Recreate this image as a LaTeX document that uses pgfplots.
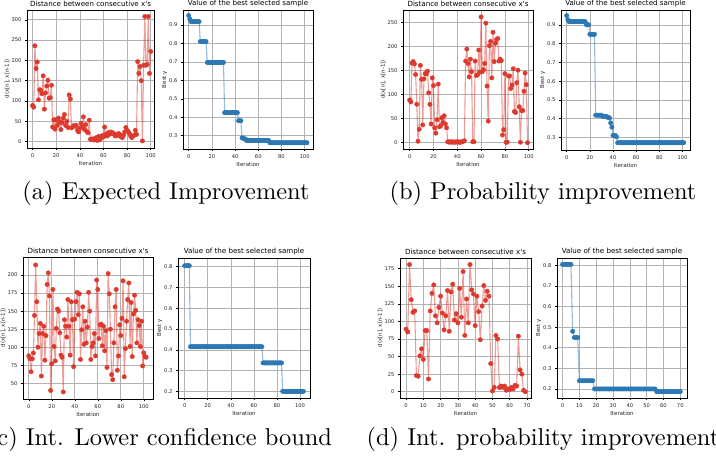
\documentclass[border=0pt]{standalone}
\usepackage{fontspec}
\usepackage{graphicx}
\usepackage{pgfplots}
\pgfplotsset{compat=1.18}
\newfontfamily\djv{DejaVu Sans}
\definecolor{distred}{HTML}{DC3A2E}
\definecolor{bestblue}{HTML}{2B78B5}

\pgfplotsset{
  bo/.style={
    scale only axis, anchor=south west,
    font=\djv\fontsize{5.4}{6.4}\selectfont,
    title style={font=\djv\fontsize{7.1}{8}\selectfont, inner sep=1pt, yshift=-4.3pt},
    tick label style={font=\djv\fontsize{5.2}{6}\selectfont, text=black!85},
    label style={font=\djv\fontsize{5.5}{6.4}\selectfont, text=black!85, inner sep=1pt},
    ylabel shift=-2.5pt, xlabel shift=-1pt,
    /pgf/number format/assume math mode=true,
    grid=major, grid style={gray!60, line width=0.6pt},
    axis line style={black, line width=0.7pt},
    tick pos=left, tick align=outside, major tick length=2pt,
    tick style={black, line width=0.5pt},
    xlabel={Iteration}, scaled ticks=false,
  },
  dist/.style={bo, title={Distance between consecutive x's}, ylabel={d(x[n], x[n-1])}},
  best/.style={bo, title={Value of the best selected sample}, ylabel={Best y},
    yticklabel style={/pgf/number format/fixed}, ytick={0.2,0.3,...,0.9}},
  distline/.style={color=distred, draw opacity=0.5, line width=1.1pt, mark=none},
  distmark/.style={only marks, mark=*, mark size=2.2pt, color=distred},
  bestline/.style={color=bestblue, draw opacity=0.5, line width=1.1pt, mark=none},
  bestmark/.style={only marks, mark=*, mark size=2.2pt, color=bestblue},
}

% (a) expected improvement
\pgfplotstableread[row sep=\\]{x y\\
0 89\\1 85\\2 236\\3 180\\4 196\\5 103\\6 128\\7 126\\8 118\\9 162\\
10 80\\11 120\\12 137\\13 151\\14 107\\15 108\\16 139\\17 36\\18 54\\19 31\\
20 54\\21 40\\22 58\\23 48\\24 30\\25 47\\26 58\\27 67\\28 40\\29 50\\
30 35\\31 115\\32 105\\33 34\\34 37\\35 40\\36 38\\37 40\\38 28\\39 24\\
40 33\\41 45\\42 37\\43 61\\44 30\\45 42\\46 25\\47 22\\48 53\\49 6\\
50 6\\51 7\\52 4\\53 8\\54 10\\55 3\\56 13\\57 5\\58 9\\59 15\\
60 12\\61 36\\62 18\\63 14\\64 22\\65 18\\66 24\\67 20\\68 22\\69 18\\
70 14\\71 18\\72 15\\73 20\\74 17\\75 12\\76 10\\77 16\\78 24\\79 35\\
80 28\\81 25\\82 20\\83 14\\84 10\\85 14\\86 16\\87 28\\88 18\\89 197\\
90 168\\91 185\\92 150\\93 2\\94 188\\95 308\\96 188\\97 190\\98 308\\99 168\\
100 222\\
}\distA
\pgfplotstableread[row sep=\\]{x y\\
0 0.951\\1 0.932\\2 0.918\\3 0.918\\4 0.918\\5 0.918\\6 0.918\\7 0.918\\8 0.918\\9 0.918\\
10 0.81\\11 0.81\\12 0.81\\13 0.81\\14 0.81\\15 0.81\\
16 0.697\\17 0.697\\18 0.697\\19 0.697\\20 0.697\\21 0.697\\22 0.697\\23 0.697\\
24 0.697\\25 0.697\\26 0.697\\27 0.697\\28 0.697\\29 0.697\\30 0.697\\
31 0.425\\32 0.425\\33 0.425\\34 0.425\\35 0.425\\36 0.425\\37 0.425\\38 0.425\\
39 0.425\\40 0.425\\41 0.425\\42 0.425\\
43 0.381\\44 0.381\\45 0.381\\46 0.288\\47 0.288\\48 0.282\\49 0.282\\
50 0.274\\51 0.274\\52 0.274\\53 0.274\\54 0.274\\55 0.274\\56 0.274\\57 0.274\\
58 0.274\\59 0.274\\60 0.274\\61 0.274\\62 0.274\\63 0.274\\64 0.274\\65 0.274\\
66 0.274\\67 0.274\\68 0.274\\69 0.274\\
70 0.262\\71 0.262\\72 0.262\\73 0.262\\74 0.262\\75 0.262\\76 0.262\\77 0.262\\
78 0.262\\79 0.262\\80 0.262\\81 0.262\\82 0.262\\83 0.262\\84 0.262\\85 0.262\\
86 0.262\\87 0.262\\88 0.262\\89 0.262\\90 0.262\\91 0.262\\92 0.262\\93 0.262\\
94 0.262\\95 0.262\\96 0.262\\97 0.262\\98 0.262\\99 0.262\\100 0.262\\101 0.262\\
102 0.262\\
}\bestA

% (b) probability improvement
\pgfplotstableread[row sep=\\]{x y\\
0 89\\1 85\\2 166\\3 169\\4 164\\5 142\\6 80\\7 3\\8 28\\9 161\\
10 132\\11 37\\12 133\\13 144\\14 143\\15 149\\16 104\\17 80\\18 39\\19 135\\
20 119\\21 31\\22 20\\23 48\\24 122\\25 33\\26 35\\27 52\\28 42\\29 56\\
30 39\\31 31\\32 2\\33 1\\34 2\\35 1\\36 2\\37 1\\38 1\\39 2\\
40 1\\41 2\\42 1\\43 1\\44 2\\45 3\\46 4\\47 170\\48 195\\49 165\\
50 137\\51 174\\52 148\\53 2\\54 2\\55 170\\56 140\\57 141\\58 193\\59 147\\
60 262\\61 148\\62 152\\63 165\\64 249\\65 118\\66 45\\67 202\\68 211\\69 135\\
70 230\\71 169\\72 207\\73 215\\74 217\\75 170\\76 174\\77 171\\78 16\\79 27\\
80 144\\81 1\\82 1\\83 139\\84 139\\85 113\\86 120\\87 154\\88 65\\89 63\\
90 125\\91 151\\92 75\\93 1\\94 67\\95 67\\96 107\\97 145\\98 121\\99 0\\
}\distB
\pgfplotstableread[row sep=\\]{x y\\
0 0.95\\1 0.928\\2 0.918\\3 0.918\\4 0.918\\5 0.918\\6 0.918\\7 0.918\\8 0.918\\
9 0.918\\10 0.918\\11 0.918\\12 0.918\\13 0.918\\14 0.918\\15 0.918\\16 0.918\\
17 0.901\\18 0.901\\19 0.901\\20 0.85\\21 0.85\\22 0.85\\23 0.85\\24 0.85\\
25 0.418\\26 0.418\\27 0.418\\28 0.418\\29 0.418\\30 0.418\\
31 0.412\\32 0.412\\33 0.412\\34 0.412\\35 0.407\\36 0.407\\37 0.403\\38 0.377\\
39 0.354\\40 0.31\\41 0.31\\42 0.31\\43 0.302\\
44 0.271\\45 0.271\\46 0.271\\47 0.271\\48 0.271\\49 0.271\\50 0.271\\51 0.271\\
52 0.271\\53 0.271\\54 0.271\\55 0.271\\56 0.271\\57 0.271\\58 0.271\\59 0.271\\
60 0.271\\61 0.271\\62 0.271\\63 0.271\\64 0.271\\65 0.271\\66 0.271\\67 0.271\\
68 0.271\\69 0.271\\70 0.271\\71 0.271\\72 0.271\\73 0.271\\74 0.271\\75 0.271\\
76 0.271\\77 0.271\\78 0.271\\79 0.271\\80 0.271\\81 0.271\\82 0.271\\83 0.271\\
84 0.271\\85 0.271\\86 0.271\\87 0.271\\88 0.271\\89 0.271\\90 0.271\\91 0.271\\
92 0.271\\93 0.271\\94 0.271\\95 0.271\\96 0.271\\97 0.271\\98 0.271\\99 0.271\\
100 0.271\\101 0.271\\
}\bestB

% (c) int. lower confidence bound
\pgfplotstableread[row sep=\\]{x y\\
0 88\\1 84\\2 66\\3 84\\4 92\\5 144\\6 214\\7 163\\8 100\\9 119\\
10 133\\11 60\\12 119\\13 129\\14 82\\15 116\\16 187\\17 203\\18 171\\19 40\\
20 77\\21 180\\22 101\\23 81\\24 126\\25 153\\26 150\\27 120\\28 89\\29 86\\
30 38\\31 138\\32 129\\33 114\\34 166\\35 129\\36 89\\37 163\\38 138\\39 73\\
40 139\\41 163\\42 176\\43 145\\44 174\\45 83\\46 124\\47 156\\48 104\\49 136\\
50 106\\51 128\\52 176\\53 150\\54 83\\55 101\\56 106\\57 119\\58 88\\59 193\\
60 180\\61 112\\62 131\\63 132\\64 102\\65 129\\66 95\\67 123\\68 72\\69 202\\
70 174\\71 125\\72 62\\73 55\\74 106\\75 156\\76 180\\77 68\\78 88\\79 131\\
80 116\\81 140\\82 192\\83 59\\84 98\\85 136\\86 166\\87 189\\88 101\\89 162\\
90 87\\91 146\\92 172\\93 151\\94 106\\95 138\\96 130\\97 101\\98 136\\99 74\\
100 92\\101 87\\102 86\\
}\distC
\pgfplotstableread[row sep=\\]{x y\\
0 0.805\\1 0.805\\2 0.805\\3 0.805\\4 0.805\\
5 0.415\\6 0.415\\7 0.415\\8 0.415\\9 0.415\\10 0.415\\11 0.415\\12 0.415\\13 0.415\\
14 0.415\\15 0.415\\16 0.415\\17 0.415\\18 0.415\\19 0.415\\20 0.415\\21 0.415\\
22 0.415\\23 0.415\\24 0.415\\25 0.415\\26 0.415\\27 0.415\\28 0.415\\29 0.415\\
30 0.415\\31 0.415\\32 0.415\\33 0.415\\34 0.415\\35 0.415\\36 0.415\\37 0.415\\
38 0.415\\39 0.415\\40 0.415\\41 0.415\\42 0.415\\43 0.415\\44 0.415\\45 0.415\\
46 0.415\\47 0.415\\48 0.415\\49 0.415\\50 0.415\\51 0.415\\52 0.415\\53 0.415\\
54 0.415\\55 0.415\\56 0.415\\57 0.415\\58 0.415\\59 0.415\\60 0.415\\61 0.415\\
62 0.415\\63 0.415\\64 0.415\\65 0.415\\66 0.415\\67 0.415\\
68 0.337\\69 0.337\\70 0.337\\71 0.337\\72 0.337\\73 0.337\\74 0.337\\75 0.337\\
76 0.337\\77 0.337\\78 0.337\\79 0.337\\80 0.337\\81 0.337\\82 0.337\\83 0.337\\84 0.337\\
85 0.2\\86 0.2\\87 0.2\\88 0.2\\89 0.2\\90 0.2\\91 0.2\\92 0.2\\93 0.2\\94 0.2\\
95 0.2\\96 0.2\\97 0.2\\98 0.2\\99 0.2\\100 0.2\\101 0.2\\102 0.2\\103 0.2\\
}\bestC

% (d) int. probability improvement
\pgfplotstableread[row sep=\\]{x y\\
0 89\\1 85\\2 181\\3 131\\4 113\\5 115\\6 23\\7 22\\8 51\\9 61\\
10 46\\11 87\\12 87\\13 18\\14 115\\15 140\\16 152\\17 108\\18 98\\19 120\\
20 136\\21 112\\22 88\\23 108\\24 144\\25 86\\26 142\\27 153\\28 102\\29 111\\
30 98\\31 147\\32 106\\33 171\\34 80\\35 132\\36 98\\37 181\\38 145\\39 139\\
40 94\\41 136\\42 114\\43 74\\44 122\\45 151\\46 130\\47 143\\48 136\\49 40\\
50 1\\51 6\\52 80\\53 75\\54 6\\55 8\\56 6\\57 8\\58 2\\59 4\\
60 3\\61 6\\62 4\\63 9\\64 8\\65 79\\66 31\\67 25\\68 2\\69 0\\
}\distD
\pgfplotstableread[row sep=\\]{x y\\
0 0.805\\1 0.805\\2 0.805\\3 0.805\\4 0.805\\5 0.805\\6 0.48\\7 0.45\\8 0.45\\9 0.45\\
10 0.24\\11 0.24\\12 0.24\\13 0.24\\14 0.24\\15 0.24\\16 0.24\\17 0.24\\18 0.24\\
19 0.2\\20 0.2\\21 0.2\\22 0.2\\23 0.2\\24 0.2\\25 0.2\\26 0.2\\27 0.2\\28 0.2\\
29 0.2\\30 0.2\\31 0.2\\32 0.2\\33 0.2\\34 0.2\\35 0.2\\36 0.2\\37 0.2\\38 0.2\\
39 0.2\\40 0.2\\41 0.2\\42 0.2\\43 0.2\\44 0.2\\45 0.2\\46 0.2\\47 0.2\\48 0.2\\
49 0.2\\50 0.2\\51 0.2\\52 0.2\\53 0.2\\54 0.2\\55 0.2\\
56 0.187\\57 0.187\\58 0.187\\59 0.187\\60 0.187\\61 0.187\\62 0.187\\63 0.187\\
64 0.187\\65 0.187\\66 0.187\\67 0.187\\68 0.187\\69 0.187\\70 0.187\\
}\bestD

\begin{document}
\begin{tikzpicture}
% top row
\begin{axis}[dist, at={(27pt,313pt)}, width=127pt, height=138pt,
  xmin=-4.7, xmax=102.8, ymin=-15.5, ymax=324,
  xtick={0,20,...,100}, ytick={0,50,...,300}]
\addplot[distline] table {\distA};
\addplot[distmark] table {\distA};
\end{axis}
\begin{axis}[best, at={(183pt,312pt)}, width=130pt, height=139pt,
  xmin=-4.9, xmax=107.2, ymin=0.228, ymax=0.981, xtick={0,20,...,100}]
\addplot[bestline] table {\bestA};
\addplot[bestmark] table {\bestA};
\end{axis}
\begin{axis}[dist, at={(403pt,312pt)}, width=130pt, height=139pt,
  xmin=-5.6, xmax=103.6, ymin=-13.1, ymax=276.4,
  xtick={0,20,...,100}, ytick={0,50,...,250}]
\addplot[distline] table {\distB};
\addplot[distmark] table {\distB};
\end{axis}
\begin{axis}[best, at={(561pt,311pt)}, width=129pt, height=140pt,
  xmin=-4.9, xmax=106.4, ymin=0.232, ymax=0.980, xtick={0,20,...,100}]
\addplot[bestline] table {\bestB};
\addplot[bestmark] table {\bestB};
\end{axis}
% bottom row
\begin{axis}[dist, at={(23pt,62pt)}, width=130pt, height=142pt,
  xmin=-5, xmax=108, ymin=28.2, ymax=225,
  xtick={0,20,...,100}, ytick={50,75,...,200}]
\addplot[distline] table {\distC};
\addplot[distmark] table {\distC};
\end{axis}
\begin{axis}[best, at={(178pt,63pt)}, width=132pt, height=140pt,
  xmin=-5.8, xmax=108.7, ymin=0.168, ymax=0.842, xtick={0,20,...,100}]
\addplot[bestline] table {\bestC};
\addplot[bestmark] table {\bestC};
\end{axis}
\begin{axis}[dist, at={(400pt,63pt)}, width=131pt, height=140pt,
  xmin=-3.5, xmax=72.3, ymin=-9, ymax=190.3,
  xtick={0,10,...,70}, ytick={0,25,...,175}]
\addplot[distline] table {\distD};
\addplot[distmark] table {\distD};
\end{axis}
\begin{axis}[best, at={(557pt,63pt)}, width=130pt, height=140pt,
  xmin=-3.3, xmax=74, ymin=0.156, ymax=0.836, xtick={0,10,...,70}]
\addplot[bestline] table {\bestD};
\addplot[bestmark] table {\bestD};
\end{axis}
% captions
\node[anchor=base, inner sep=0pt] at (166pt,261pt) {\scalebox{2.44}{(a) Expected Improvement}};
\node[anchor=base, inner sep=0pt] at (543pt,261pt) {\scalebox{2.44}{(b) Probability improvement}};
\node[anchor=base, inner sep=0pt] at (160pt,15pt) {\scalebox{2.44}{(c) Int. Lower confidence bound}};
\node[anchor=base, inner sep=0pt] at (543pt,15pt) {\scalebox{2.44}{(d) Int. probability improvement}};
\pgfresetboundingbox
\useasboundingbox (0pt,0pt) rectangle (716pt,461pt);
\end{tikzpicture}
\end{document}
